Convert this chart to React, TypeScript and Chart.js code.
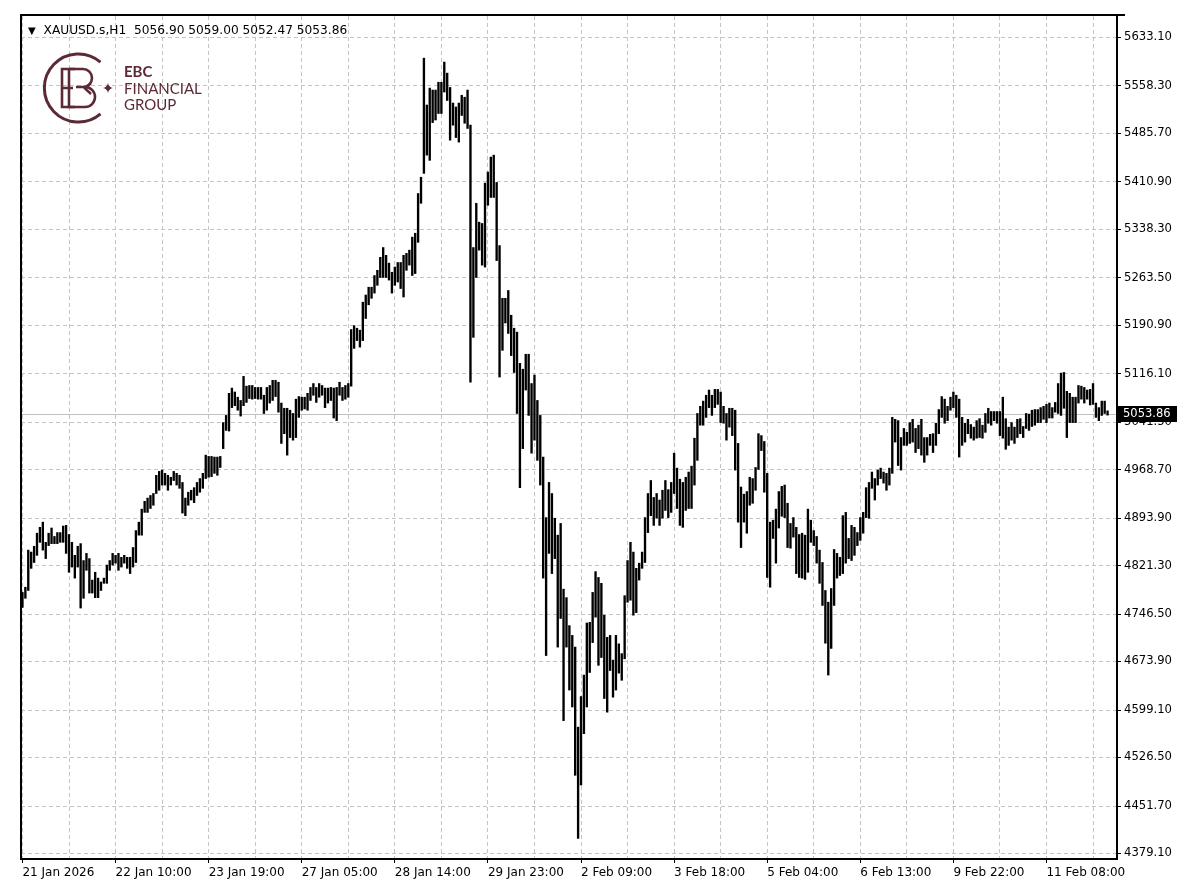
import React, { useEffect, useRef } from 'react';
import { Chart, registerables } from 'chart.js';

Chart.register(...registerables);

const SYMBOL = 'XAUUSD.s,H1';
const LAST_OHLC = [5056.9, 5059.0, 5052.47, 5053.86];
const CURRENT_PRICE = 5053.86;

const X_LABELS = [
  '21 Jan 2026', '22 Jan 10:00', '23 Jan 19:00', '27 Jan 05:00', '28 Jan 14:00', '29 Jan 23:00',
  '2 Feb 09:00', '3 Feb 18:00', '5 Feb 04:00', '6 Feb 13:00', '9 Feb 22:00', '11 Feb 08:00',
];
const BARS_PER_LABEL = 32;

const Y_TICKS = [
  5633.1, 5558.3, 5485.7, 5410.9, 5338.3, 5263.5, 5190.9, 5116.1, 5041.5,
  4968.7, 4893.9, 4821.3, 4746.5, 4673.9, 4599.1, 4526.5, 4451.7, 4379.1,
];

const HIGHS = [
  4780, 4788, 4845, 4842, 4851, 4871, 4880, 4888, 4857, 4871,
  4879, 4866, 4872, 4872, 4882, 4883, 4869, 4857, 4837, 4851,
  4855, 4829, 4840, 4832, 4799, 4811, 4802, 4796, 4802, 4822,
  4829, 4840, 4837, 4840, 4834, 4837, 4834, 4834, 4849, 4875,
  4888, 4908, 4920, 4925, 4929, 4932, 4960, 4966, 4968, 4963,
  4960, 4957, 4966, 4963, 4960, 4949, 4925, 4934, 4937, 4941,
  4949, 4955, 4963, 4991, 4989, 4989, 4988, 4988, 4989, 5041,
  5052, 5086, 5094, 5088, 5080, 5075, 5112, 5097, 5098, 5098,
  5095, 5095, 5095, 5083, 5095, 5098, 5106, 5106, 5103, 5071,
  5063, 5063, 5060, 5055, 5077, 5081, 5080, 5080, 5086, 5095,
  5101, 5095, 5101, 5098, 5094, 5094, 5095, 5094, 5095, 5103,
  5095, 5098, 5101, 5184, 5190, 5186, 5183, 5226, 5237, 5249,
  5249, 5267, 5275, 5295, 5310, 5298, 5286, 5272, 5280, 5287,
  5287, 5298, 5301, 5306, 5326, 5332, 5393, 5418, 5601, 5529,
  5555, 5552, 5552, 5564, 5564, 5595, 5578, 5556, 5532, 5526,
  5532, 5544, 5541, 5552, 5498, 5310, 5378, 5349, 5347, 5409,
  5426, 5449, 5452, 5410, 5313, 5232, 5232, 5244, 5206, 5186,
  5180, 5132, 5123, 5146, 5146, 5101, 5114, 5075, 5052, 4988,
  4895, 4949, 4932, 4894, 4868, 4886, 4785, 4772, 4729, 4714,
  4696, 4573, 4620, 4653, 4733, 4734, 4780, 4812, 4803, 4794,
  4745, 4711, 4714, 4676, 4714, 4701, 4686, 4775, 4829, 4857,
  4842, 4817, 4825, 4842, 4895, 4932, 4952, 4926, 4932, 4922,
  4937, 4952, 4938, 4949, 4994, 4971, 4954, 4949, 4957, 4965,
  4974, 5017, 5055, 5066, 5074, 5083, 5091, 5083, 5092, 5092,
  5088, 5066, 5055, 5063, 5063, 5060, 5009, 4942, 4931, 4935,
  4957, 4955, 4972, 5024, 5021, 5012, 4963, 4888, 4891, 4908,
  4935, 4943, 4945, 4917, 4886, 4895, 4880, 4869, 4871, 4868,
  4908, 4891, 4875, 4866, 4845, 4826, 4783, 4765, 4786, 4846,
  4840, 4834, 4898, 4903, 4863, 4883, 4880, 4872, 4895, 4903,
  4941, 4949, 4965, 4955, 4968, 4971, 4965, 4963, 4971, 5049,
  5046, 5044, 5018, 5032, 5026, 5041, 5046, 5032, 5037, 5046,
  5018, 5018, 5023, 5024, 5040, 5061, 5081, 5077, 5066, 5080,
  5088, 5083, 5077, 5049, 5040, 5046, 5038, 5034, 5044, 5047,
  5037, 5055, 5063, 5058, 5058, 5058, 5058, 5080, 5047, 5034,
  5041, 5034, 5046, 5047, 5035, 5055, 5054, 5060, 5061, 5061,
  5064, 5066, 5069, 5071, 5064, 5072, 5101, 5117, 5118, 5089,
  5086, 5080, 5080, 5098, 5097, 5095, 5091, 5092, 5101, 5071,
  5064, 5074, 5074, 5059.0,
];

const LOWS = [
  4757, 4771, 4783, 4817, 4826, 4837, 4857, 4845, 4832, 4852,
  4855, 4855, 4855, 4857, 4857, 4840, 4811, 4819, 4802, 4819,
  4756, 4771, 4814, 4779, 4779, 4772, 4772, 4783, 4794, 4794,
  4814, 4822, 4825, 4814, 4819, 4825, 4817, 4809, 4819, 4826,
  4868, 4868, 4903, 4903, 4909, 4914, 4932, 4937, 4945, 4945,
  4937, 4945, 4952, 4945, 4940, 4902, 4898, 4914, 4922, 4918,
  4929, 4934, 4940, 4955, 4957, 4958, 4963, 4960, 4972, 5001,
  5029, 5028, 5064, 5067, 5060, 5051, 5067, 5072, 5078, 5077,
  5078, 5077, 5077, 5055, 5060, 5071, 5075, 5081, 5057, 5009,
  5024, 4991, 5018, 5014, 5018, 5049, 5060, 5062, 5060, 5075,
  5083, 5072, 5080, 5083, 5064, 5071, 5075, 5048, 5044, 5083,
  5075, 5077, 5080, 5097, 5155, 5167, 5157, 5167, 5201, 5222,
  5232, 5240, 5252, 5264, 5264, 5264, 5260, 5240, 5252, 5257,
  5247, 5234, 5275, 5283, 5267, 5270, 5318, 5378, 5424, 5452,
  5444, 5502, 5506, 5516, 5516, 5549, 5536, 5475, 5498, 5479,
  5472, 5513, 5501, 5493, 5103, 5172, 5264, 5306, 5283, 5280,
  5375, 5387, 5387, 5290, 5111, 5152, 5194, 5178, 5144, 5118,
  5055, 4941, 5001, 5091, 5052, 4994, 5014, 4983, 4945, 4802,
  4683, 4840, 4809, 4832, 4696, 4740, 4583, 4696, 4630, 4604,
  4499, 4402, 4484, 4563, 4604, 4657, 4703, 4742, 4668, 4680,
  4617, 4596, 4660, 4619, 4630, 4656, 4645, 4678, 4765, 4768,
  4745, 4749, 4799, 4817, 4826, 4872, 4898, 4883, 4894, 4883,
  4894, 4906, 4895, 4903, 4932, 4909, 4883, 4880, 4906, 4909,
  4909, 4945, 4983, 5037, 5037, 5049, 5064, 5052, 5064, 5069,
  5041, 5040, 5014, 5034, 5021, 4968, 4888, 4849, 4888, 4871,
  4914, 4917, 4937, 4969, 4998, 4934, 4803, 4788, 4863, 4825,
  4879, 4897, 4895, 4849, 4848, 4865, 4809, 4803, 4802, 4800,
  4811, 4857, 4852, 4825, 4794, 4760, 4702, 4653, 4694, 4760,
  4802, 4806, 4809, 4825, 4832, 4829, 4837, 4852, 4860, 4871,
  4895, 4894, 4940, 4922, 4945, 4955, 4948, 4937, 4945, 4963,
  5011, 4975, 4968, 5006, 5006, 5009, 5011, 4995, 5001, 4991,
  4980, 4991, 5006, 4995, 5006, 5024, 5049, 5040, 5044, 5060,
  5064, 5049, 4988, 5006, 5011, 5024, 5017, 5014, 5017, 5018,
  5017, 5026, 5040, 5037, 5044, 5040, 5021, 5017, 5000, 5006,
  5014, 5009, 5018, 5024, 5018, 5032, 5029, 5035, 5037, 5041,
  5041, 5046, 5041, 5048, 5048, 5057, 5055, 5052, 5063, 5018,
  5041, 5041, 5041, 5071, 5077, 5071, 5077, 5068, 5069, 5049,
  5044, 5052, 5055, 5052.47,
];

const Y_MIN = 4371.9;
const Y_MAX = 5665.8;

const FONT = 'DejaVu Sans';
const MAROON = '#5b2a34';

const framePlugin = {
  id: 'mtFrame',
  beforeDatasetsDraw(chart: any) {
    const { ctx, chartArea: a, scales } = chart;
    const py = Math.round(scales.y.getPixelForValue(CURRENT_PRICE)) + 0.5;
    ctx.save();
    ctx.strokeStyle = '#c0c0c0';
    ctx.lineWidth = 1;
    ctx.beginPath();
    ctx.moveTo(a.left, py);
    ctx.lineTo(a.right, py);
    ctx.stroke();
    ctx.restore();
  },
  afterDraw(chart: any) {
    const { ctx, chartArea: a, scales } = chart;
    ctx.save();
    ctx.fillStyle = '#000';
    ctx.fillRect(a.left - 1, a.top - 2, a.right - a.left + 10, 2);
    ctx.fillRect(a.left - 1, a.top - 2, 2, a.bottom - a.top + 4);
    ctx.fillRect(a.right, a.top, 2, a.bottom - a.top + 2);
    ctx.fillRect(a.left - 1, a.bottom, a.right - a.left + 3, 2);
    const py = Math.round(scales.y.getPixelForValue(CURRENT_PRICE));
    ctx.fillRect(a.right + 1, py - 8, 60, 16);
    ctx.fillStyle = '#fff';
    ctx.font = `11.5px "${FONT}"`;
    ctx.textBaseline = 'middle';
    ctx.textAlign = 'left';
    ctx.fillText(CURRENT_PRICE.toFixed(2), a.right + 7, py + 0.5);
    ctx.restore();
  },
};

export default function App() {
  const ref = useRef<HTMLCanvasElement>(null);

  useEffect(() => {
    if (!ref.current) return;
    const data = HIGHS.map((h, i) => ({ x: i, y: [LOWS[i], h] }));
    const nBars = HIGHS.length;
    const chart = new Chart(ref.current, {
      type: 'bar',
      data: {
        datasets: [
          {
            data: data as any,
            backgroundColor: '#000',
            borderWidth: 0,
            barThickness: 1.7,
          },
        ],
      },
      options: {
        animation: false,
        responsive: false,
        events: [],
        layout: { padding: { left: 21, top: 16, right: 0, bottom: 0 } },
        plugins: { legend: { display: false }, tooltip: { enabled: false } },
        scales: {
          x: {
            type: 'linear',
            min: -0.5,
            max: nBars + 1.9,
            offset: false,
            afterBuildTicks: (s: any) => {
              const t = [];
              for (let v = 0; v < nBars; v += BARS_PER_LABEL / 2) t.push({ value: v });
              s.ticks = t;
            },
            afterFit: (s: any) => {
              s.height = 38;
            },
            grid: {
              color: '#c4c4c4',
              lineWidth: 1,
              offset: false,
              tickLength: 5,
              tickWidth: 1,
              tickColor: (c: any) =>
                c.tick && c.tick.value % BARS_PER_LABEL === 0 ? '#000' : 'rgba(0,0,0,0)',
            },
            border: { display: false, dash: [4, 3] },
            ticks: {
              autoSkip: false,
              maxRotation: 0,
              minRotation: 0,
              align: 'start',
              padding: 3,
              color: '#000',
              font: { family: FONT, size: 12 },
              callback: (v: any) =>
                Number(v) % BARS_PER_LABEL === 0 ? X_LABELS[Number(v) / BARS_PER_LABEL] ?? '' : '',
            },
          },
          y: {
            type: 'linear',
            position: 'right',
            min: Y_MIN,
            max: Y_MAX,
            afterBuildTicks: (s: any) => {
              s.ticks = Y_TICKS.map((v) => ({ value: v }));
            },
            afterFit: (s: any) => {
              s.width = 84;
            },
            grid: {
              color: '#c4c4c4',
              lineWidth: 1,
              tickLength: 5,
              tickWidth: 1,
              tickColor: '#000',
            },
            border: { display: false, dash: [4, 3] },
            ticks: {
              padding: 3,
              color: '#000',
              font: { family: FONT, size: 11.6 },
              callback: (v: any) => Number(v).toFixed(2),
            },
          },
        },
      } as any,
      plugins: [framePlugin],
    });
    return () => chart.destroy();
  }, []);

  return (
    <div
      style={{
        position: 'fixed',
        left: 0,
        top: 0,
        width: 1200,
        height: 896,
        background: '#fff',
        overflow: 'hidden',
      }}
    >
      <canvas ref={ref} width={1200} height={896} style={{ display: 'block', width: 1200, height: 896 }} />
      <div
        style={{
          position: 'absolute',
          left: 28,
          top: 23,
          fontFamily: FONT,
          fontSize: 12.2,
          lineHeight: '14px',
          color: '#000',
          whiteSpace: 'pre',
        }}
      >
        <span style={{ fontSize: 10, marginRight: 4 }}>▼</span>
        {' ' + SYMBOL + '  ' + LAST_OHLC.map((v) => v.toFixed(2)).join(' ')}
      </div>
      <svg
        style={{ position: 'absolute', left: 0, top: 0 }}
        width={260}
        height={140}
        viewBox="0 0 260 140"
      >
        <path
          d="M 100.5 62.2 A 34 34 0 1 0 100.5 113.8"
          fill="none"
          stroke={MAROON}
          strokeWidth={3}
        />
        <path
          d="M108 83 Q108.8 87.2 113 88 Q108.8 88.8 108 93 Q107.2 88.8 103 88 Q107.2 87.2 108 83 Z"
          fill={MAROON}
        />
        <path d="M75 69 H62 V107 H75 M62 88 H73" fill="none" stroke={MAROON} strokeWidth={2.6} />
        <path
          d="M69 69 H83 A9 9 0 0 1 83 87 H76 M76 87 H85 A10 10 0 0 1 85 107 H69 V69"
          fill="none"
          stroke={MAROON}
          strokeWidth={2.6}
        />
        <path d="M91 83 L85 88.5 L91 94" fill="none" stroke={MAROON} strokeWidth={2.4} />
        <text x={124} y={77} fontFamily="Lato" fontWeight={700} fontSize={15} fill={MAROON}>
          EBC
        </text>
        <text x={124} y={94} fontFamily="Lato" fontSize={15} fill={MAROON}>
          FINANCIAL
        </text>
        <text x={124} y={110} fontFamily="Lato" fontSize={15} fill={MAROON}>
          GROUP
        </text>
      </svg>
    </div>
  );
}
